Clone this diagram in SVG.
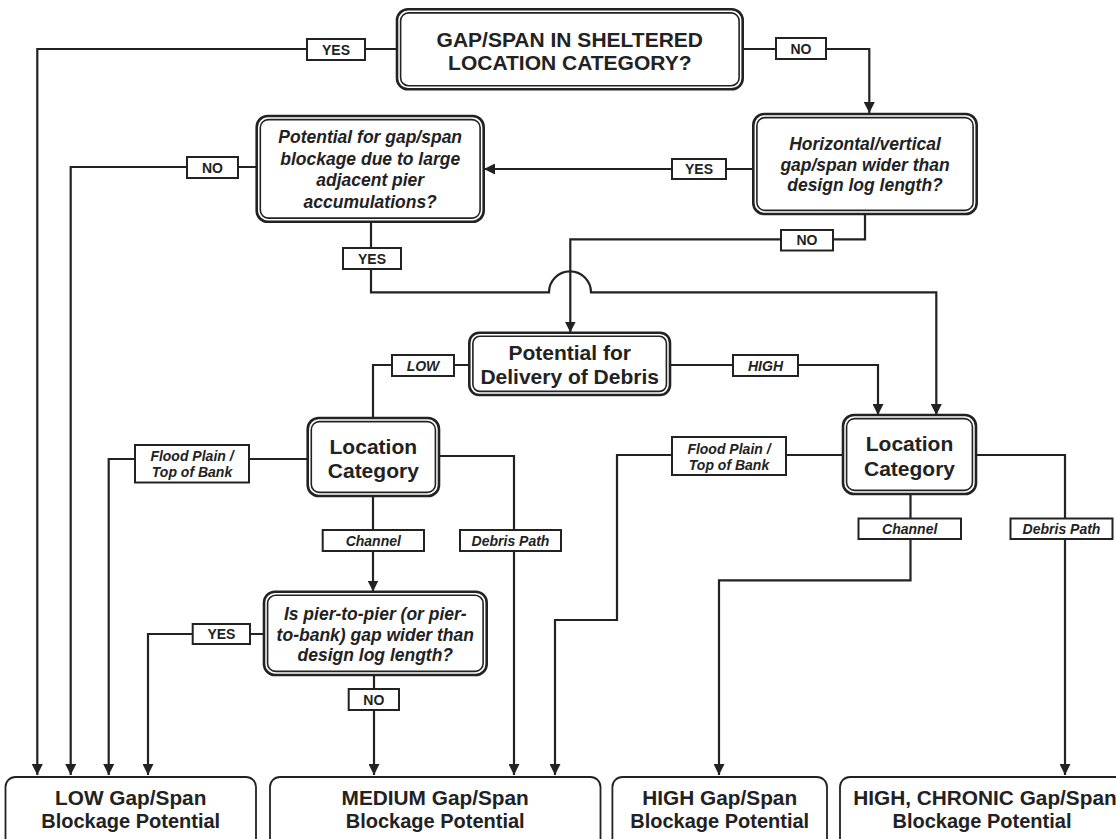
<svg xmlns="http://www.w3.org/2000/svg" width="1116" height="839" viewBox="0 0 1116 839">
  <defs>
    <marker id="arrow" viewBox="0 0 10 10" refX="10" refY="5" markerWidth="11" markerHeight="11" markerUnits="userSpaceOnUse" orient="auto">
      <path d="M0,0 L10,5 L0,10 z" fill="#222"/>
    </marker>
    <style>
      text { font-family: "Liberation Sans", Arial, sans-serif; font-weight: bold; fill: #222; text-anchor: middle; }
      .outer { fill: #fff; stroke: #222; stroke-width: 2.6; }
      .inner { fill: none; stroke: #222; stroke-width: 1.6; }
      .end { fill: #fff; stroke: #222; stroke-width: 1.8; }
      .lbl { fill: #fff; stroke: #222; stroke-width: 2; }
      .wire { fill: none; stroke: #222; stroke-width: 2.2; }
      .arr { marker-end: url(#arrow); }
      .t21 { font-size: 21px; }
      .t20 { font-size: 20px; }
      .h20 { font-size: 20.8px; }
      .q { font-size: 17.5px; font-style: italic; }
      .l { font-size: 14px; }
      .li { font-size: 14px; font-style: italic; }
    </style>
  </defs>

  <rect width="1116" height="839" fill="#fff"/>

  <!-- connectors -->
  <g id="connectors">
    <path class="wire arr" d="M397 49 H37.3 V775"/>
    <path class="wire arr" d="M742.7 49 H869.3 V113"/>
    <path class="wire arr" d="M753.3 169 H484"/>
    <path class="wire arr" d="M256.7 167 H70.7 V775"/>
    <path class="wire arr" d="M865 214 V239.3 H570.3 V332.5"/>
    <path class="wire arr" d="M371 221.7 V292.3 H549 A21 21 0 0 1 591 292.3 H936.3 V415"/>
    <path class="wire" d="M469.3 365 H373 V418"/>
    <path class="wire arr" d="M670 365 H878 V415"/>
    <path class="wire arr" d="M307.7 459 H108.7 V775"/>
    <path class="wire arr" d="M439 456 H514 V775"/>
    <path class="wire arr" d="M373 496 V591.5"/>
    <path class="wire arr" d="M264 634 H148 V775"/>
    <path class="wire arr" d="M374 675 V775"/>
    <path class="wire arr" d="M843 455 H617 V620 H555 V775"/>
    <path class="wire arr" d="M910.5 494 V580.3 H719 V775"/>
    <path class="wire arr" d="M976 455 H1065 V775"/>

    <!-- branch labels -->
    <rect class="lbl" x="307" y="39" width="58" height="21"/><text class="l" x="336" y="54.5">YES</text>
    <rect class="lbl" x="776" y="38" width="50" height="21"/><text class="l" x="801" y="53.5">NO</text>
    <rect class="lbl" x="187" y="157" width="51" height="21"/><text class="l" x="212.5" y="172.5">NO</text>
    <rect class="lbl" x="672" y="159" width="54" height="20"/><text class="l" x="699" y="174">YES</text>
    <rect class="lbl" x="343" y="248" width="58" height="21"/><text class="l" x="372" y="263.5">YES</text>
    <rect class="lbl" x="781" y="230" width="52" height="20.5"/><text class="l" x="807" y="245.3">NO</text>
    <rect class="lbl" x="392" y="355" width="62" height="21"/><text class="li" x="423" y="370.5">LOW</text>
    <rect class="lbl" x="733" y="355" width="65" height="21"/><text class="li" x="765.5" y="370.5">HIGH</text>
    <rect class="lbl" x="135" y="445" width="114" height="37.5"/><text class="li" x="192" y="461">Flood Plain /</text><text class="li" x="192" y="477">Top of Bank</text>
    <rect class="lbl" x="322.7" y="530" width="101.3" height="21"/><text class="li" x="373.3" y="545.5">Channel</text>
    <rect class="lbl" x="460" y="530" width="101" height="21"/><text class="li" x="510.5" y="545.5">Debris Path</text>
    <rect class="lbl" x="672" y="437" width="114" height="38"/><text class="li" x="729" y="453.5">Flood Plain /</text><text class="li" x="729" y="470">Top of Bank</text>
    <rect class="lbl" x="858.5" y="518.5" width="102.5" height="20.5"/><text class="li" x="909.7" y="533.8">Channel</text>
    <rect class="lbl" x="1010.5" y="518.5" width="102" height="20.5"/><text class="li" x="1061.5" y="533.8">Debris Path</text>
    <rect class="lbl" x="192.7" y="624" width="57.3" height="20"/><text class="l" x="221.4" y="639">YES</text>
    <rect class="lbl" x="348.7" y="689" width="50.3" height="21"/><text class="l" x="373.8" y="704.5">NO</text>
  </g>

  <!-- decision nodes -->
  <g id="n-sheltered">
    <rect class="outer" x="397" y="9.3" width="345.7" height="80" rx="11"/>
    <rect class="inner" x="400.6" y="12.9" width="338.5" height="72.8" rx="8"/>
    <text class="t21" x="569.8" y="46.7">GAP/SPAN IN SHELTERED</text>
    <text class="t21" x="569.8" y="70">LOCATION CATEGORY?</text>
  </g>

  <g id="n-adjacent">
    <rect class="outer" x="256.7" y="116" width="227" height="105.7" rx="11"/>
    <rect class="inner" x="260.3" y="119.6" width="219.8" height="98.5" rx="8"/>
    <text class="q" x="370.2" y="143">Potential for gap/span</text>
    <text class="q" x="370.2" y="164.5">blockage due to large</text>
    <text class="q" x="370.2" y="186">adjacent pier</text>
    <text class="q" x="370.2" y="207.5">accumulations?</text>
  </g>

  <g id="n-gapwidth">
    <rect class="outer" x="753.3" y="114" width="223.4" height="100" rx="11"/>
    <rect class="inner" x="756.9" y="117.6" width="216.2" height="92.8" rx="8"/>
    <text class="q" x="865" y="149.5">Horizontal/vertical</text>
    <text class="q" x="865" y="170.5">gap/span wider than</text>
    <text class="q" x="865" y="191">design log length?</text>
  </g>

  <g id="n-delivery">
    <rect class="outer" x="469.3" y="332.7" width="200.7" height="62.3" rx="10"/>
    <rect class="inner" x="472.9" y="336.3" width="193.5" height="55.1" rx="7"/>
    <text class="t21" x="569.7" y="360">Potential for</text>
    <text class="t21" x="569.7" y="383.5">Delivery of Debris</text>
  </g>

  <g id="n-location-low">
    <rect class="outer" x="307.7" y="418" width="131.3" height="78" rx="11"/>
    <rect class="inner" x="311.3" y="421.6" width="124.1" height="70.8" rx="8"/>
    <text class="t21" x="373.3" y="453.5">Location</text>
    <text class="t21" x="373.3" y="477.5">Category</text>
  </g>

  <g id="n-location-high">
    <rect class="outer" x="843" y="415" width="133" height="79" rx="11"/>
    <rect class="inner" x="846.6" y="418.6" width="125.8" height="71.8" rx="8"/>
    <text class="t21" x="909.5" y="450.5">Location</text>
    <text class="t21" x="909.5" y="475.5">Category</text>
  </g>

  <g id="n-pierwidth">
    <rect class="outer" x="264" y="591.7" width="222.7" height="83.3" rx="11"/>
    <rect class="inner" x="267.6" y="595.3" width="215.5" height="76.1" rx="8"/>
    <text class="q" x="375.3" y="619.5">Is pier-to-pier (or pier-</text>
    <text class="q" x="375.3" y="640.5">to-bank) gap wider than</text>
    <text class="q" x="375.3" y="661">design log length?</text>
  </g>

  <!-- outcome nodes -->
  <g id="n-low">
    <rect class="end" x="5.5" y="777" width="250.5" height="75" rx="10"/>
    <text class="h20" x="130.7" y="805">LOW Gap/Span</text>
    <text class="t20" x="130.7" y="828">Blockage Potential</text>
  </g>
  <g id="n-medium">
    <rect class="end" x="270" y="777" width="330.5" height="75" rx="10"/>
    <text class="h20" x="435.2" y="805">MEDIUM Gap/Span</text>
    <text class="t20" x="435.2" y="828">Blockage Potential</text>
  </g>
  <g id="n-high">
    <rect class="end" x="612.4" y="777" width="214.6" height="75" rx="10"/>
    <text class="h20" x="719.7" y="805">HIGH Gap/Span</text>
    <text class="t20" x="719.7" y="828">Blockage Potential</text>
  </g>
  <g id="n-chronic">
    <rect class="end" x="840" y="777" width="290" height="75" rx="10"/>
    <text class="h20" x="985" y="805">HIGH, CHRONIC Gap/Span</text>
    <text class="t20" x="982" y="828">Blockage Potential</text>
  </g>
</svg>
